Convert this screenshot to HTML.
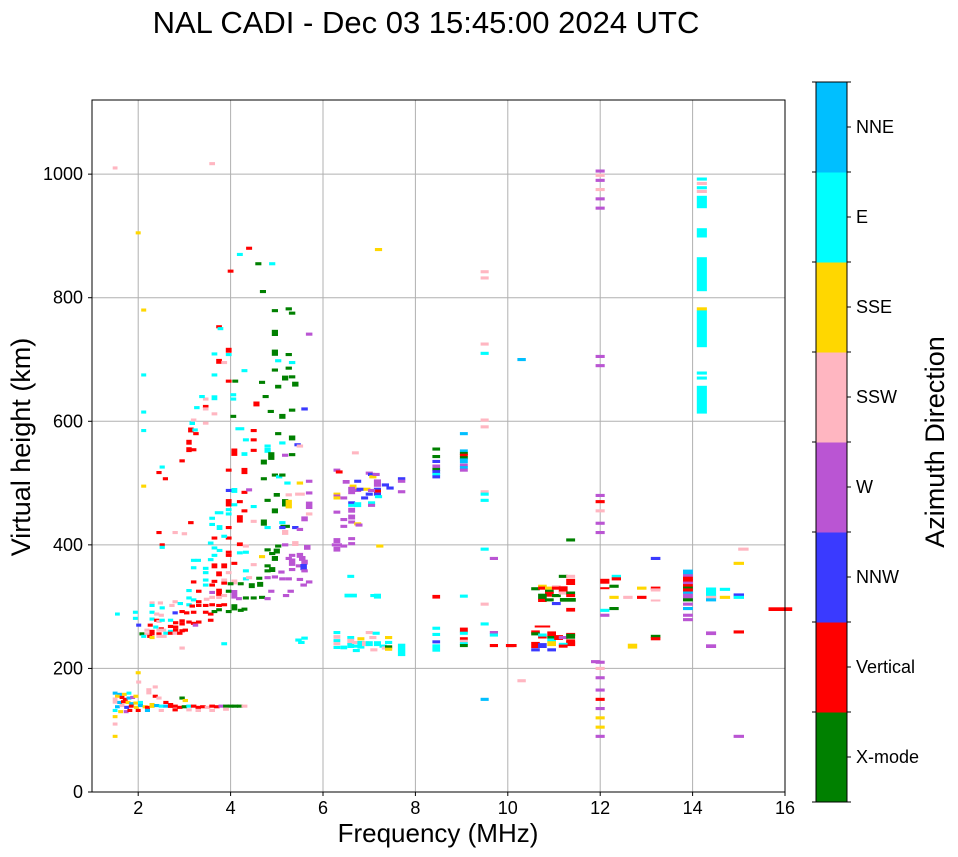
<!DOCTYPE html>
<html><head><meta charset="utf-8"><style>
html,body{margin:0;padding:0;background:#fff;}
svg{display:block;font-family:"Liberation Sans","DejaVu Sans",sans-serif;}
</style></head><body>
<svg id="chart" width="958" height="857" viewBox="0 0 958 857" xmlns="http://www.w3.org/2000/svg">
<text x="426" y="33" font-size="31" text-anchor="middle">NAL CADI - Dec 03 15:45:00 2024 UTC</text>
<g id="grid"></g>
<g id="marks"></g>
<rect x="92" y="100" width="693" height="692" fill="none" stroke="#000" stroke-width="1"/>
<g id="axes"></g>
<text x="438" y="842" font-size="26" text-anchor="middle">Frequency (MHz)</text>
<text transform="translate(30,447) rotate(-90)" font-size="27" text-anchor="middle">Virtual height (km)</text>
<g id="cbar"></g>
<text transform="translate(944,442) rotate(-90)" font-size="27" text-anchor="middle">Azimuth Direction</text>
</svg>
<script>
const xTicks=[2,4,6,8,10,12,14,16];
const yTicks=[0,200,400,600,800,1000];
const directionLabels=["X-mode","Vertical","NNW","W","SSW","SSE","E","NNE"];
const directionColors=["#008000","#ff0000","#3a3aff","#ba55d3","#ffb6c1","#ffd700","#00ffff","#00bfff"];
// [freq MHz, height km, direction index, optional height span km, optional width multiplier]
const echoes=[
[1.5,1010,4],[3.6,1017,4],[2.0,905,5],[4.4,880,1],[4.2,870,6],[4.6,855,0],[4.9,855,6],[4.0,843,1],[4.7,810,0],[7.2,878,5],[2.12,780,5],
[4.96,779,0],[5.26,782,0],[5.33,775,0],[3.75,753,1],[3.78,750,6],[4.96,743,0,10],[5.7,741,3],[3.96,715,1,8],[3.96,708,6],[3.65,709,6],[4.96,711,0,10],[5.26,708,0],
[3.75,697,1,8],[3.86,695,4],[5.03,698,6],[5.33,695,6],[2.12,675,6],[3.65,675,6],[4.3,682,6],[4.96,683,0],[5.26,686,0],[3.96,665,1],[4.1,665,0],[4.68,663,0],
[5.18,670,0,8],[5.33,672,0],[5.03,656,0,6],[5.4,660,0,8],[3.65,638,6,8],[3.46,636,4],[3.38,640,6],[4.06,643,6],[4.06,636,6],[3.46,624,1],[3.46,620,4],[4.56,628,1,8],
[4.76,640,0],[3.27,622,6],[3.65,612,4],[4.87,616,0],[5.12,608,0,8],[5.33,618,0],[5.6,620,2],[2.12,615,6],[4.06,608,0],[3.17,597,6,6],[3.2,602,4],[3.46,597,4],
[3.14,586,1,8],[3.23,586,6],[3.25,580,1],[4.2,588,6,5,1.5],[4.5,585,1],[5.03,580,0],[5.33,573,0,8],[2.12,585,6],[3.1,566,1,8],[3.1,554,1,8],[3.2,554,1],
[4.33,570,6],[4.5,570,1],[4.08,550,1,12],[4.3,547,6,6],[4.5,553,1],[4.8,560,6],[4.8,553,6,8],[4.88,546,0,8],[5.12,565,6],[5.45,562,2],[5.5,560,4],[5.18,545,3],
[5.33,546,0],[4.72,534,0,8],[4.88,540,0],[2.95,536,1],[2.52,526,6],[2.45,517,1],[2.59,507,1],[3.96,521,1],[4.3,522,1],[4.3,517,1],[4.72,507,0],[4.96,513,0],
[5.05,510,6],[5.12,513,0],[5.23,500,6],[5.5,500,5],[5.7,503,3],[2.12,495,5],[3.96,488,2],[4.08,488,6,8],[4.3,485,1],[4.4,489,3],[4.8,472,0],[5.0,481,0,6],
[5.26,481,4],[5.5,482,4,5,1.5],[5.7,484,3],[3.96,468,1,12],[4.08,465,6],[4.2,470,1],[4.5,462,6],[5.18,468,0,12],[5.26,466,5,14],[5.7,464,3,12],[4.3,455,1],
[4.96,455,0,8],[3.75,452,6,5,1.5],[3.96,457,6],[3.96,450,6],[4.2,442,1,12],[4.5,438,4],[4.72,436,0,10],[5.12,436,6],[5.18,430,0,5,1.5],[5.6,442,3,8],[5.7,450,4],
[3.14,436,1],[3.6,443,6],[3.6,433,6],[3.76,428,6,8],[3.96,428,1],[2.45,420,1],[2.8,420,4],[3.0,418,4],[4.8,428,6],[5.12,428,2],[5.18,420,4,8],[5.4,428,2],
[5.5,425,3],[3.65,411,1],[3.96,411,1],[3.86,414,6],[3.57,403,6],[4.2,401,1,6],[4.33,398,4],[5.03,398,0],[5.18,400,3],[5.4,402,4,8],[5.66,396,3,8],[2.52,400,1],
[2.52,396,6],[3.65,395,6],[3.76,391,6],[3.96,388,1],[4.33,388,6],[4.8,392,0],[4.9,386,0],[5.0,390,0,8],[5.33,383,3],[5.5,383,3,8],[5.55,378,3,8],[3.65,383,6],
[3.96,383,1],[4.2,387,6],[4.68,381,5],[4.96,378,0,8],[5.26,378,3],[5.33,372,3,12],[5.48,366,3],[5.6,372,3,8],[3.2,375,6],[3.3,375,6],[3.57,376,6],[3.65,366,1,8],
[3.86,366,1,8],[4.08,370,1],[4.5,368,4],[4.8,366,0],[4.9,360,0,8],[5.58,364,2,10],[5.33,360,3],[3.46,362,6],[3.2,363,6],[3.46,355,6],[3.75,353,1,8],[3.96,355,4],
[4.33,358,6],[4.8,358,0],[5.1,356,3],[5.6,358,3],[3.2,340,1],[3.46,343,6],[3.65,341,1],[3.86,343,4],[4.08,340,4,8],[4.33,345,6],[4.4,347,4],[4.62,346,0],
[4.8,347,3],[4.96,348,3],[5.12,345,3],[5.26,345,3],[5.5,344,3],[3.46,335,6],[3.6,335,1],[3.86,338,1],[4.0,337,0],[4.22,337,0],[4.46,334,0,8],[4.64,336,0,8],
[5.58,335,3],[5.7,340,3],[3.1,326,6],[3.31,325,1],[3.6,323,3],[3.75,323,1,12],[3.96,325,0],[4.08,320,3,14],[4.88,325,3],[5.3,325,3],[2.3,306,4],[2.48,306,4],
[2.8,308,4],[3.1,314,6],[3.2,311,6],[3.31,308,1],[3.48,312,4],[3.6,315,4],[3.75,315,4],[3.86,318,4],[4.18,313,3],[4.33,314,0],[4.5,314,0],[4.68,315,0],[4.8,313,3],
[5.2,318,3],[2.3,302,6],[2.52,298,6],[2.73,302,4],[2.91,305,6],[3.1,303,6],[3.17,301,1],[3.31,302,1],[3.46,302,1],[3.6,303,1],[3.75,302,1],[3.86,303,1],
[4.08,299,0,10],[4.3,296,0],[1.94,291,6],[1.55,288,6],[2.3,291,6],[2.4,288,4],[2.5,286,4],[2.8,290,2],[2.95,292,1],[3.05,290,1],[3.2,291,1],[3.46,291,1],
[3.57,288,1],[3.65,292,0],[3.75,295,0],[3.96,292,0],[4.22,294,0],[1.94,281,6],[2.3,280,6],[2.4,278,1],[2.45,276,4],[2.52,278,6],[2.7,278,6],[2.81,274,1],
[2.95,277,1],[3.1,275,1],[3.2,273,1],[3.31,275,1],[3.57,278,1],[2.01,270,2],[2.26,270,1],[2.38,267,6],[2.5,264,1],[2.7,268,1],[2.81,267,1],[2.95,272,1],
[3.24,270,3],[2.19,262,4],[2.3,260,1],[2.45,262,4],[2.55,262,4],[2.7,260,6],[2.81,262,1],[2.95,261,1],[3.02,262,1],[2.08,256,0],[2.19,256,4],[2.3,256,1],
[2.45,256,1],[2.6,257,6],[2.7,257,1],[2.8,257,4],[2.9,257,1],[2.12,252,6],[2.25,252,1],[2.3,250,5],[2.45,252,4],[2.56,252,4],[3.86,240,6],[2.95,233,4],
[5.47,246,6],[5.6,249,6],[5.53,242,6],
[2.0,193,5],[2.01,178,4],[2.37,170,4],[2.23,163,4,10],[2.37,155,1],[2.45,152,4],[2.95,152,0],[3.02,148,5],[2.6,145,1],
[1.5,160,7],[1.6,158,7],[1.7,158,5],[1.8,160,6],[1.55,155,5],[1.65,153,1],[1.72,150,1],[1.8,152,7],[1.88,153,3],[1.95,155,5],[1.5,148,4,10],[1.6,145,7],
[1.68,146,1],[1.78,145,5],[1.86,143,7],[1.95,144,5],[2.05,145,6],[1.55,138,7],[1.65,140,4],[1.75,137,2],[1.85,139,1],[1.96,137,5],[2.05,140,7],[2.15,138,5],
[1.5,132,6],[1.62,130,5],[1.74,130,3],[1.82,132,1],[2.0,132,1],[1.5,122,5],[1.5,110,4],[1.5,90,5],
[2.2,137,1],[2.3,140,5,8],[2.4,140,7],[2.5,139,6],[2.6,139,7],[2.7,140,1,8],[2.8,139,1],[2.9,137,1],[3.0,138,0],[3.1,139,6],[3.2,139,1],[3.3,137,1],
[3.4,138,1],[3.5,137,4],[3.6,139,1],[3.7,138,1],[3.8,139,3],[3.9,139,0],[4.0,139,0],[4.1,139,0],[4.2,139,0],[4.3,139,4],[2.2,132,7],[2.5,132,4],[2.8,133,1],
[3.1,133,4],[3.3,132,4],[3.6,132,4],[3.9,134,4],
[6.3,521,3],[6.35,518,1],[6.5,502,3,6],[6.7,549,4],[6.65,495,5],[6.75,503,2],[6.65,490,5],[7.0,516,3],[7.05,514,2],[7.08,510,5],[7.15,514,3],[7.18,500,3,12],
[7.18,490,2],[7.18,487,1],[7.35,497,2],[7.45,492,2],[7.7,507,2],[7.7,503,3],[7.7,486,3],[6.3,482,5],[6.3,479,3],[6.3,476,5],[6.45,476,3],[6.62,488,3,12],
[6.75,488,3],[6.8,490,2],[6.95,490,5],[6.9,476,2],[7.0,482,2],[7.05,488,3],[7.18,482,2],[7.2,478,6],[6.62,468,2],[6.62,464,6],[6.75,465,6,8],[7.05,468,6],
[7.05,464,3],[6.62,456,3,8],[6.3,453,3],[6.45,441,3],[6.62,445,3,8],[6.62,437,3],[6.75,434,5],[6.78,432,3],[6.45,430,3],[6.3,407,3,8],[6.62,410,3],
[6.62,402,3],[6.3,400,3,5,1.5],[6.45,398,3],[6.3,393,3,8],[7.23,398,5],[6.6,349,6],[6.6,318,6,6,1.8],[7.1,318,6],[7.18,317,6,8],
[6.3,258,6],[6.3,251,4,6],[6.3,245,6],[6.3,240,4],[6.3,234,6,5],[6.45,234,6,6],[6.6,250,6],[6.6,244,4,8],[6.6,237,6,8],[6.7,242,4],[6.72,236,6],[6.72,229,6],
[6.82,248,5],[6.82,242,6],[6.82,236,6,8],[6.92,240,4,8],[7.0,240,6,8],[7.0,258,4],[7.08,250,4],[7.15,257,6],[7.18,240,6,8],[7.1,230,4],[7.3,236,6],[7.35,233,4],
[7.42,250,5],[7.42,242,6],[7.42,235,0],[7.42,231,5],[7.7,230,6,20],
[8.45,555,0],[8.45,543,0],[8.45,535,2],[8.45,527,3,6],[8.45,522,0],[8.45,518,2,6],[8.45,514,6],[8.45,510,2],[8.45,316,1,6],[8.45,265,6],[8.45,255,6],
[8.45,243,2],[8.45,233,6,12],[9.05,580,7],[9.05,552,7],[9.05,548,0],[9.05,545,1],[9.05,541,0],[9.05,536,7,8],[9.05,529,3],[9.05,525,7],[9.05,521,3],
[9.05,317,6],[9.05,262,1,8],[9.05,257,6],[9.05,248,1],[9.05,244,4],[9.05,240,6],[9.05,237,0],[9.5,842,4],[9.5,832,4],[9.5,725,4],[9.5,710,6],[9.5,602,4],
[9.5,591,4],[9.5,486,4],[9.5,482,6],[9.5,472,6],[9.5,393,6],[9.5,304,4],[9.5,272,6],[9.5,150,7],[9.7,378,3],[9.7,258,3],[9.7,254,6],[9.7,237,1],[10.1,237,1],
[10.3,700,7],[10.3,180,4],
[11.36,408,0],[10.6,329,0],[10.75,333,5],[10.75,330,1],[10.9,330,5],[10.9,325,0],[10.9,320,1,8],[10.75,316,0,10],[10.75,310,1],[10.9,311,0],[11.05,318,5],
[11.05,332,4],[11.05,330,1],[11.05,318,0],[11.2,349,0],[11.36,349,4],[11.36,340,1,10],[11.2,328,1,10],[11.2,322,4],[11.36,322,0],[11.36,318,1],[11.3,311,0,6,1.8],
[11.05,305,2],[11.36,295,1,6],[10.75,268,1,3,1.8],[10.6,259,1],[10.6,256,0],[10.75,251,1],[10.75,254,6],[10.95,256,1,8],[10.95,250,0],[10.95,246,6],
[10.95,240,5,8],[11.1,250,1,8],[11.2,250,3],[11.36,242,1,10],[11.36,255,1],[11.36,252,0,8],[11.36,240,1,8],[11.2,239,6],[11.2,236,1],[10.6,238,1,10],
[10.75,237,2,8],[10.6,230,2],[10.95,230,2],[10.05,237,1],[11.9,211,3],
[12.1,341,1,8],[12.35,349,6],[12.35,345,1],[12.1,330,1,3],[12.3,333,0],[12.3,315,5],[12.6,315,4],[12.9,315,1],[12.9,330,5],[13.2,330,1],[13.2,327,4],
[13.2,310,4,3],[12.3,297,0],[12.1,294,6],[12.1,286,3],[13.2,252,0],[13.2,248,1],[12.7,236,5,8],[13.2,378,2],
[12.0,480,3],[12.0,470,1],[12.0,455,4],[12.0,435,3],[12.0,420,3],[12.0,210,3],[12.0,200,4],[12.0,185,3],[12.0,165,3],[12.0,150,1],[12.0,135,3],
[12.0,120,5],[12.0,105,5],[12.0,90,3],[12.0,1005,3],[12.0,998,4],[12.0,990,3],[12.0,975,4],[12.0,960,3],[12.0,945,3],[12.0,705,3],[12.0,690,3],
[13.9,355,7,10],[13.9,350,3],[13.9,346,1],[13.9,342,1],[13.9,338,3],[13.9,334,1],[13.9,330,0],[13.9,327,1],[13.9,322,7],[13.9,316,3,10],[13.9,311,0],
[13.9,304,3],[13.9,297,7],[13.9,286,3],[13.9,279,3],
[14.4,322,6,18],[14.7,328,6],[14.4,315,4],[14.4,311,7],[14.7,315,5],[15.0,319,2],[15.0,315,6],[14.4,257,3,6],[14.4,236,3,6],[15.0,259,1],[15.1,393,4],
[15.0,370,5],[15.9,296,1,6,2.2],[15.0,90,3],
[14.2,635,6,45],[14.2,670,6],[14.2,678,6],[14.2,750,6,60],[14.2,782,5],[14.2,838,6,55],[14.2,905,6,15],[14.2,955,6,20],[14.2,972,4],[14.2,978,6],
[14.2,985,4],[14.2,992,6]
];

const X0=92,X1=785,Y0=792,Y1=100,FMIN=1,FMAX=16,HMIN=0,HMAX=1120;
function xs(f){return X0+(f-FMIN)/(FMAX-FMIN)*(X1-X0);}
function ys(h){return Y0-(h-HMIN)/(HMAX-HMIN)*(Y0-Y1);}
const NS="http://www.w3.org/2000/svg";
function mk(tag,attrs,parent){const e=document.createElementNS(NS,tag);for(const k in attrs)e.setAttribute(k,attrs[k]);parent.appendChild(e);return e;}

const grid=document.getElementById('grid'),axes=document.getElementById('axes'),marks=document.getElementById('marks'),cbar=document.getElementById('cbar');
xTicks.forEach(t=>{
  const x=xs(t);
  if(t<FMAX){const g=mk('line',{x1:x,x2:x,y1:Y1,y2:Y0,stroke:'#b0b0b0','stroke-width':1},grid);
  
  }
  const tk=mk('line',{x1:x,x2:x,y1:Y0,y2:Y0+4,stroke:'#000'},axes);
  
  
  const tl=mk('text',{x:x,y:Y0+22,'font-size':18,'text-anchor':'middle'},axes);tl.textContent=t;
  
  
});
yTicks.forEach(t=>{
  const y=ys(t);
  if(t>HMIN){const g=mk('line',{x1:X0,x2:X1,y1:y,y2:y,stroke:'#b0b0b0','stroke-width':1},grid);
  
  }
  const tk=mk('line',{x1:X0-4,x2:X0,y1:y,y2:y,stroke:'#000'},axes);
  
  
  const tl=mk('text',{x:X0-9,y:y+6,'font-size':18,'text-anchor':'end'},axes);tl.textContent=t;
  
  
});
echoes.forEach(e=>{
  const f=e[0],h=e[1],d=e[2],span=e[3]||5,wm=e[4]||1;
  const wMHz=(0.09+0.009*f)*wm;
  const x=xs(f-wMHz/2),w=xs(f+wMHz/2)-x;
  const y=ys(h+span/2),hh=ys(h-span/2)-y;
  const r=mk('rect',{x:x.toFixed(1),y:y.toFixed(1),width:w.toFixed(1),height:Math.max(2,hh).toFixed(1),fill:directionColors[d]},marks);
  
  
});
const CX=816,CW=31,CT=82,CB=802,n=directionLabels.length,step=(CB-CT)/n;
directionLabels.forEach((lab,i)=>{
  const y=CB-(i+1)*step;
  const r=mk('rect',{x:CX,y:y,width:CW,height:step+0.5,fill:directionColors[i]},cbar);
  
  
  const tk=mk('line',{x1:CX+CW,x2:CX+CW+4,y1:y+step/2,y2:y+step/2,stroke:'#000'},cbar);
  
  
  const t=mk('text',{x:CX+CW+9,y:y+step/2+6,'font-size':18},cbar);t.textContent=lab;
  
  
});
for(let i=0;i<=n;i++){const y=CB-i*step;
  const m=mk('line',{x1:CX-4,x2:CX,y1:y,y2:y,stroke:'#000'},cbar);
  
  
  const m2=mk('line',{x1:CX+CW,x2:CX+CW+4,y1:y,y2:y,stroke:'#000'},cbar);
  
  }
const cf=mk('rect',{x:CX,y:CT,width:CW,height:CB-CT,fill:'none',stroke:'#000'},cbar);


</script>
</body></html>
